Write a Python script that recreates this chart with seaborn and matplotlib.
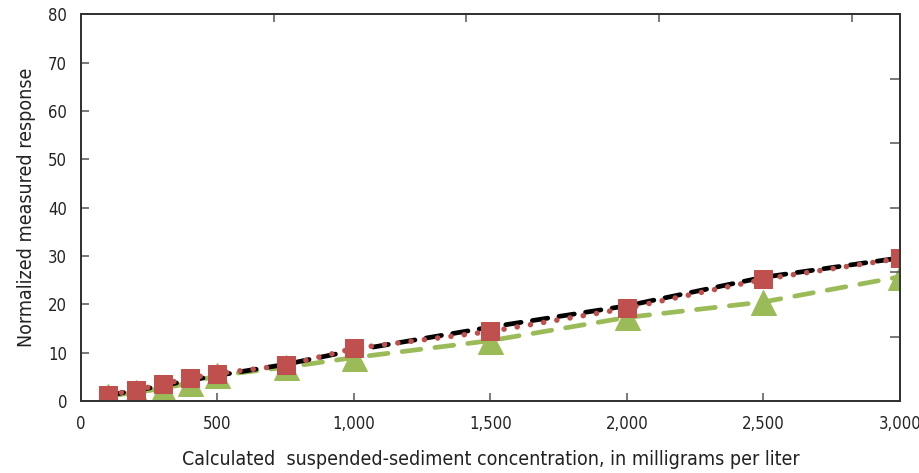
import matplotlib
matplotlib.use("Agg")
import matplotlib.pyplot as plt
import seaborn as sns
import pandas as pd

# Data
concentration = [100, 200, 300, 400, 500, 750, 1000, 1500, 2000, 2500, 3000]
black_series = [1.2, 2.2, 3.2, 4.3, 5.3, 7.6, 10.5, 15.3, 19.7, 25.6, 29.6]
red_series = [1.3, 2.3, 3.5, 4.8, 5.7, 7.4, 10.9, 14.4, 19.2, 25.2, 29.5]
green_series = [1.0, 1.8, 2.6, 3.8, 5.3, 7.0, 9.0, 12.5, 17.3, 20.5, 25.7]

x_ticks = [0, 500, 1000, 1500, 2000, 2500, 3000]
x_tick_labels = ["0", "500", "1,000", "1,500", "2,000", "2,500", "3,000"]
y_ticks = [0, 10, 20, 30, 40, 50, 60, 70, 80]
x_label = "Calculated  suspended-sediment concentration, in milligrams per liter"
y_label = "Normalized measured response"

df = pd.DataFrame({"x": concentration, "black": black_series,
                   "red": red_series, "green": green_series})

sns.set_style("white")
plt.rcParams["font.family"] = ["DejaVu Sans"]
plt.rcParams["font.stretch"] = "condensed"
plt.rcParams["lines.dash_capstyle"] = "round"
plt.rcParams["lines.solid_capstyle"] = "round"

fig = plt.figure(figsize=(9.2, 4.73), dpi=100)
ax = fig.add_axes([0.088, 0.152, 0.890, 0.818])

RED = "#C0504D"
GREEN = "#9BBB59"

sns.lineplot(data=df, x="x", y="green", ax=ax, color=GREEN, linewidth=3.4,
             linestyle=(0, (4.0, 3.0)), marker="^", markersize=18,
             markeredgecolor=GREEN, markerfacecolor=GREEN, zorder=2)
sns.lineplot(data=df, x="x", y="black", ax=ax, color="black", linewidth=3.4,
             linestyle=(0, (3.3, 2.4)), zorder=3)
sns.lineplot(data=df, x="x", y="red", ax=ax, color=RED, linewidth=4.0,
             linestyle=(0, (0.01, 2.4)), marker="s",
             markersize=13, markeredgecolor=RED, markerfacecolor=RED, zorder=4)

ax.set_xlim(0, 3000)
ax.set_ylim(0, 80)
ax.set_xticks(x_ticks)
ax.set_xticklabels(x_tick_labels)
ax.set_yticks(y_ticks)
ax.set_xlabel(x_label, fontsize=14, color="#222222", labelpad=12)
ax.set_ylabel(y_label, fontsize=14, color="#222222", labelpad=9)
ax.tick_params(axis="both", direction="in", length=6, width=1.1,
               color="#555555", labelsize=12, labelcolor="#222222", pad=10)
for s in ax.spines.values():
    s.set_color("#333333")
    s.set_linewidth(1.2)
    s.set_visible(True)

# Unlabeled secondary axes with inward ticks (top and right)
axt = ax.twiny()
axt.set_xlim(0, 4.25)
axt.set_xticks([1, 2, 3, 4])
axt.tick_params(axis="x", direction="in", length=6, width=1.1, color="#555555",
                labeltop=False)
axr = ax.twinx()
axr.set_ylim(0, 6)
axr.set_yticks([1, 2, 3, 4, 5])
axr.tick_params(axis="y", direction="in", length=7, width=1.1, color="#555555",
                labelright=False)
for a in (axt, axr):
    for s in a.spines.values():
        s.set_color("#333333")
        s.set_linewidth(1.2)

fig.savefig("out.png", dpi=100)
